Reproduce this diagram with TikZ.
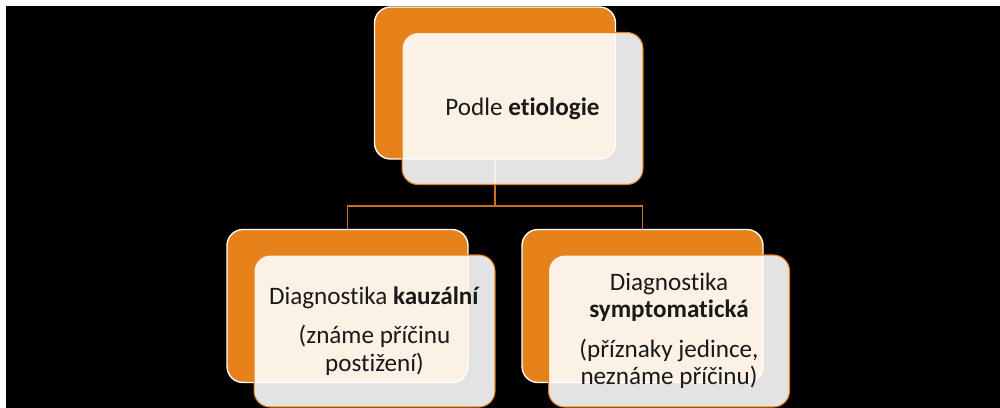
\documentclass[tikz,border=0pt]{standalone}
\usepackage{fontspec}
\setmainfont{Carlito}[RawFeature={-liga;-clig;-dlig;-calt}]
\definecolor{boxorange}{HTML}{E5821A}
\definecolor{linkorange}{HTML}{C8731C}
\begin{document}
\begin{tikzpicture}[x=0.02cm,y=-0.02cm,
  backbox/.style={draw=white,line width=0.8pt,fill=boxorange,rounded corners=0.32cm,
    minimum width=4.82cm,minimum height=3.06cm,inner sep=0},
  frontbox/.style={draw=boxorange,line width=0.6pt,fill=white,fill opacity=0.89,text opacity=1,
    rounded corners=0.32cm,minimum width=4.82cm,minimum height=3.04cm,inner sep=0,
    align=center,text=black!90,font=\fontsize{14.3}{15.5}\selectfont},
  link/.style={draw=linkorange,line width=0.8pt}]
\useasboundingbox (0,0) rectangle (1000,408);
\fill[black] (6,6) rectangle (1000,408);
% back boxes
\node[backbox,minimum height=3.04cm] (etio) at (495,83) {};
\node[backbox] (kauz) at (347.5,306) {};
\node[backbox] (symp) at (642.5,306) {};
% connectors
\coordinate (fork) at (495,206);
\draw[link] (etio.south) -- (fork) -| (kauz.north);
\draw[link] (fork) -| (symp.north);
% front boxes
\node[frontbox] (etiof) at (522.5,108.5) {Podle \textbf{etiologie}};
\node[frontbox] (kauzf) at (374.5,331) {Diagnostika \textbf{kauzální}\\[7pt] (známe příčinu\\ postižení)};
\node[frontbox] (sympf) at (669,331) {Diagnostika\\ \textbf{symptomatická}\\[7pt] (příznaky jedince,\\ neznáme příčinu)};
\end{tikzpicture}
\end{document}
